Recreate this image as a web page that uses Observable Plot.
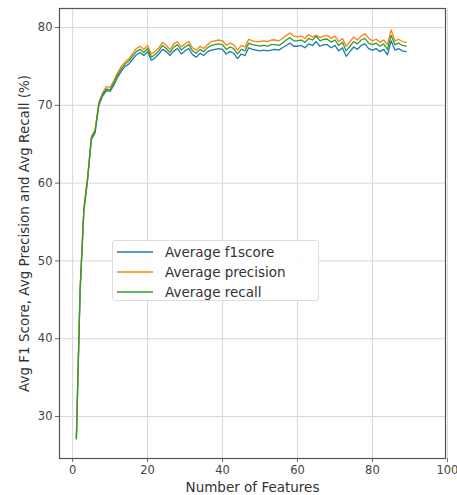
<!DOCTYPE html>
<html><head><meta charset="utf-8">
<script src="https://cdn.jsdelivr.net/npm/d3@7"></script>
<script src="https://cdn.jsdelivr.net/npm/@observablehq/plot@0.6"></script>
<style>
body{margin:0;background:#fff;font-family:"DejaVu Sans",sans-serif;}
#wrap{position:relative;width:457px;height:495px;}
#legend{position:absolute;left:112px;top:240px;width:207px;height:61px;border:1px solid #ddd;border-radius:3px;background:rgba(255,255,255,0.9);box-sizing:border-box;}
.item{position:absolute;left:0;height:20px;display:flex;align-items:center;font-size:13.5px;color:#333;}
.item svg{margin-left:4px;margin-right:12px;}
</style></head>
<body><div id="wrap"><div id="legend"></div></div>
<script>
const features = d3.range(1, 90);
const f1score = [27.1,46.1,56.4,60.4,65.6,66.5,70.0,71.2,71.9,71.8,72.6,73.6,74.4,75.0,75.3,75.9,76.5,76.8,76.4,76.9,75.8,76.1,76.6,77.2,76.9,76.4,77.0,77.3,76.6,77.0,77.3,76.5,76.2,76.7,76.4,76.9,77.1,77.2,77.3,77.2,76.6,76.9,76.7,76.0,76.6,76.4,77.4,77.2,77.1,77.0,77.1,77.0,77.1,77.2,77.1,77.4,77.7,78.0,77.6,77.6,77.7,77.4,77.9,77.7,78.2,77.6,77.8,77.8,77.4,77.7,77.0,77.4,76.3,76.9,77.5,77.2,77.7,77.9,77.3,77.1,77.3,76.9,77.2,76.5,78.3,77.1,77.3,77.0,76.9];
const precision = [27.3,46.5,56.8,60.8,66.0,66.9,70.4,71.6,72.4,72.3,73.2,74.2,75.0,75.6,76.0,76.6,77.3,77.6,77.2,77.7,76.6,76.9,77.4,78.1,77.7,77.2,77.9,78.2,77.5,77.9,78.2,77.4,77.1,77.6,77.3,77.8,78.2,78.3,78.4,78.3,77.7,78.0,77.8,77.1,77.7,77.5,78.5,78.3,78.2,78.2,78.3,78.2,78.4,78.4,78.3,78.6,79.0,79.3,78.9,78.8,78.9,78.6,79.1,78.8,79.0,78.7,78.9,79.0,78.6,78.9,78.2,78.6,77.6,78.2,78.8,78.4,78.9,79.2,78.6,78.3,78.5,78.1,78.4,77.8,79.7,78.3,78.5,78.2,78.1];
const recall = [27.2,46.3,56.6,60.6,65.8,66.7,70.2,71.4,72.1,72.0,72.9,73.9,74.7,75.3,75.7,76.3,76.9,77.2,76.8,77.3,76.2,76.5,77.0,77.7,77.3,76.8,77.5,77.8,77.1,77.5,77.8,77.0,76.7,77.2,76.9,77.4,77.7,77.8,77.9,77.8,77.2,77.5,77.3,76.6,77.2,77.0,78.0,77.8,77.7,77.6,77.7,77.6,77.8,77.8,77.7,78.0,78.4,78.7,78.3,78.3,78.4,78.1,78.6,78.4,78.9,78.3,78.5,78.5,78.1,78.4,77.7,78.1,77.0,77.6,78.2,77.9,78.4,78.6,78.0,77.8,78.0,77.6,77.9,77.2,79.0,77.8,78.0,77.7,77.6];
const seriesNames = ["Average f1score","Average precision","Average recall"];
const seriesColors = ["#1f77b4","#ff7f0e","#2ca02c"];
const xTicks = [0,20,40,60,80,100];
const yTicks = [30,40,50,60,70,80];

const rows = [];
[f1score, precision, recall].forEach((arr, s) => arr.forEach((v, i) => rows.push({x: features[i], y: v, s: seriesNames[s]})));

const chart = Plot.plot({
  width: 457, height: 495,
  marginLeft: 59, marginRight: 12, marginTop: 8, marginBottom: 37,
  style: {fontFamily: "DejaVu Sans, sans-serif", background: "#fff"},
  x: {domain: [-3.5, 99.5]},
  y: {domain: [24.6, 82.45]},
  color: {domain: seriesNames, range: seriesColors},
  marks: [
    Plot.gridX(xTicks, {stroke: "#d8d8d8", strokeOpacity: 1, strokeWidth: 1}),
    Plot.gridY(yTicks, {stroke: "#d8d8d8", strokeOpacity: 1, strokeWidth: 1}),
    Plot.axisX(xTicks, {tickSize: 4, fontSize: 11.5, fill: "#444", stroke: "#666", tickPadding: 3,
      label: "Number of Features", labelAnchor: "center", labelArrow: "none", labelOffset: 33}),
    Plot.axisY(yTicks, {tickSize: 4, fontSize: 11.5, fill: "#444", stroke: "#666", tickPadding: 3,
      label: "Avg F1 Score, Avg Precision and Avg Recall (%)", labelAnchor: "center", labelArrow: "none", labelOffset: 40}),
    Plot.line(rows, {x: "x", y: "y", stroke: "s", z: "s", strokeWidth: 1.3}),
    Plot.frame({stroke: "#555", strokeWidth: 1.2})
  ]
});
chart.querySelectorAll('g[aria-label="x-axis label"] text, g[aria-label="y-axis label"] text').forEach(t => { t.style.fontSize = "13.5px"; t.setAttribute("fill", "#333"); });
document.getElementById("wrap").prepend(chart);

const leg = document.getElementById("legend");
seriesNames.forEach((n, i) => {
  const d = document.createElement("div");
  d.className = "item";
  d.style.top = (1 + i * 20) + "px";
  d.innerHTML = `<svg width="36" height="4"><line x1="0" y1="2" x2="36" y2="2" stroke="${seriesColors[i]}" stroke-width="1.5"/></svg><span>${n}</span>`;
  leg.appendChild(d);
});
</script></body></html>
